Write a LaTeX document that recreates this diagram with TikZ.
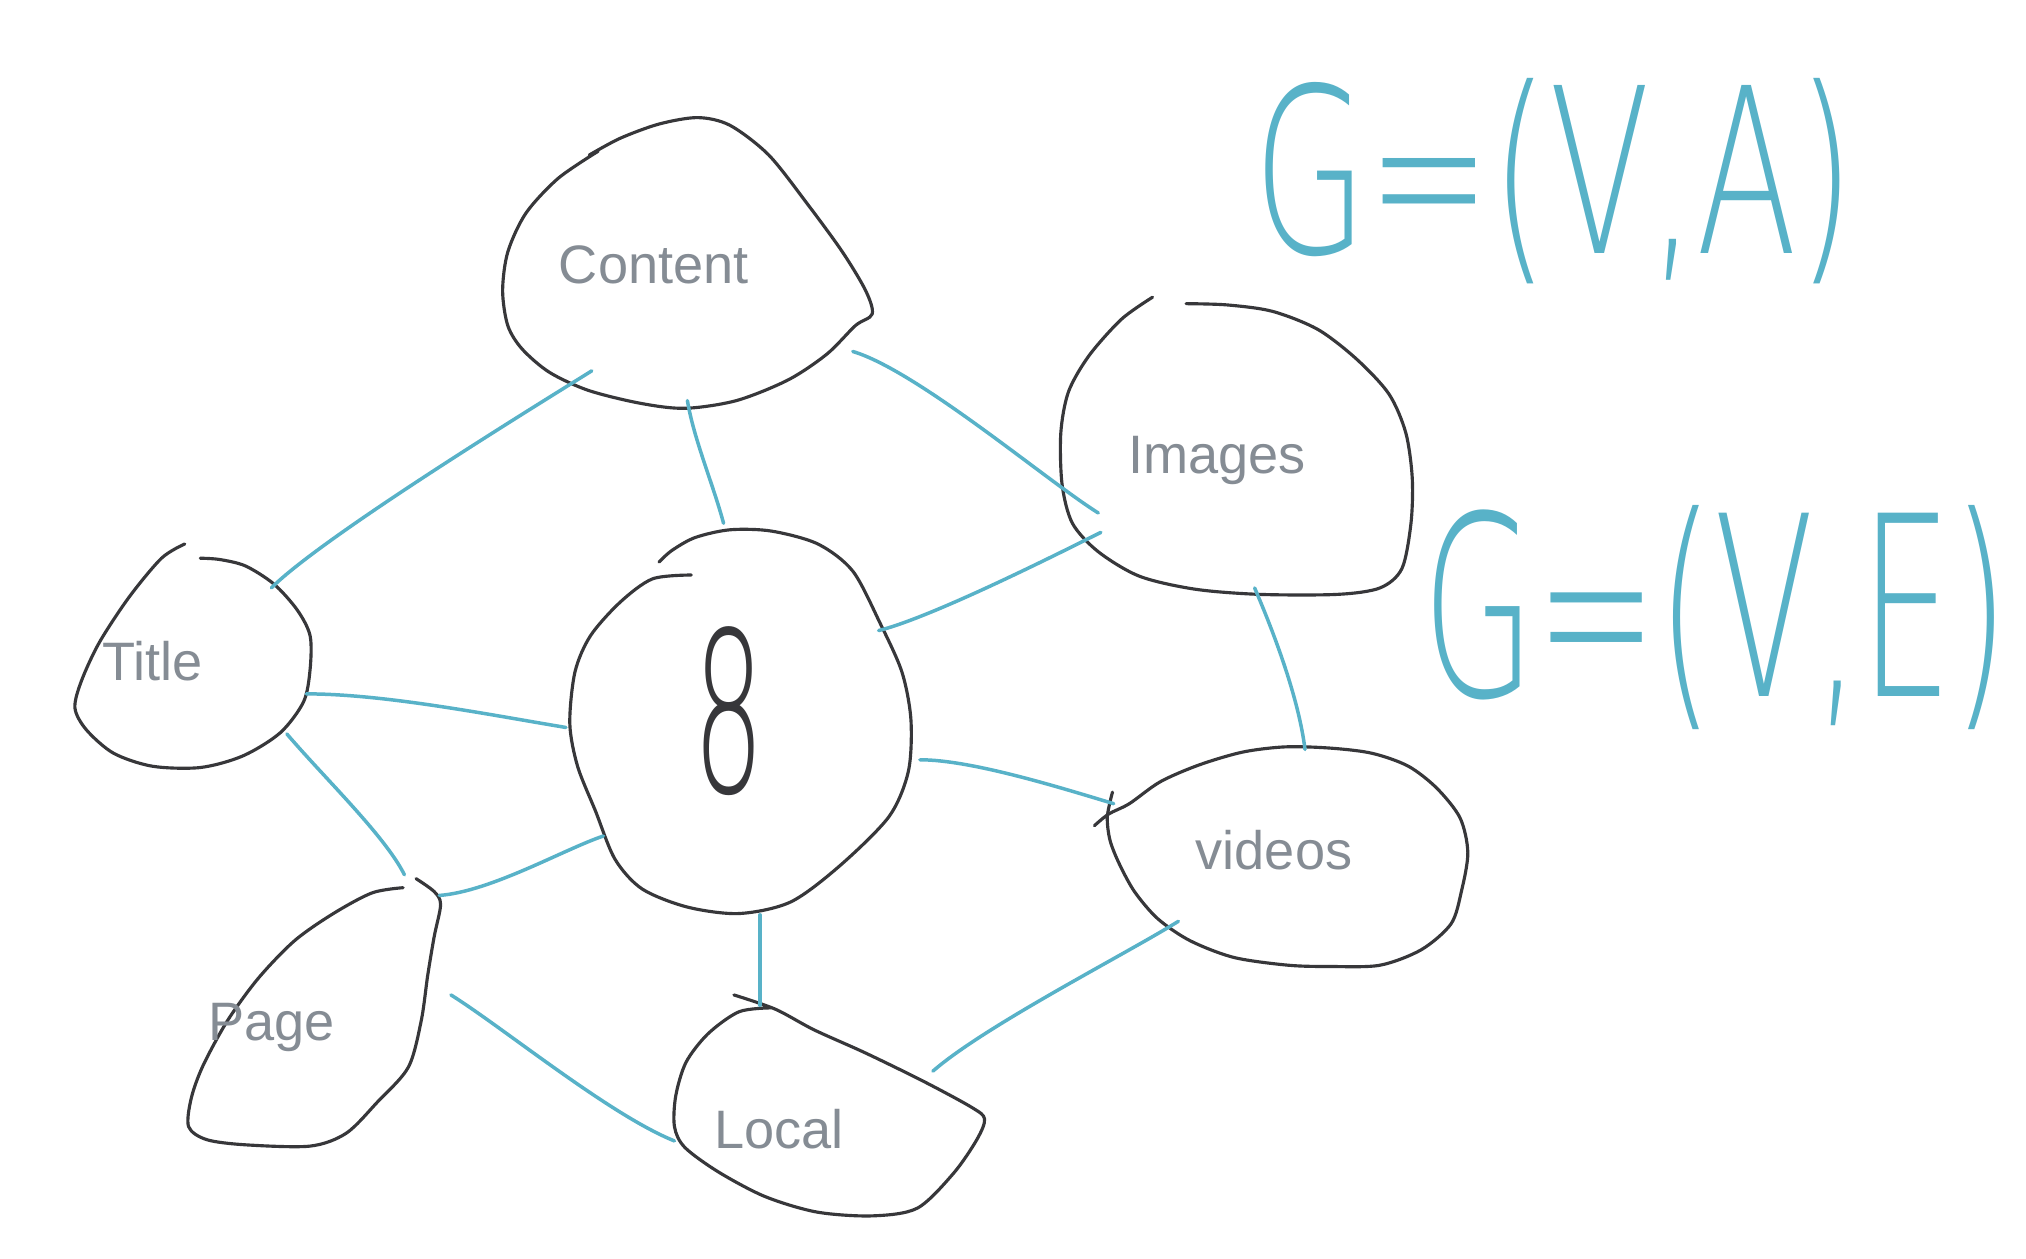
\documentclass[tikz,border=0pt]{standalone}
\usepackage{fontspec}
\usepackage{tikz}
\usetikzlibrary{calc}
\newfontfamily\etichettafont{Liberation Sans}
\newfontfamily\manofont{DejaVuSans-ExtraLight.ttf}
\definecolor{nero}{RGB}{55,55,58}
\definecolor{grigio}{RGB}{133,140,148}
\definecolor{azzurro}{RGB}{88,178,200}

\begin{document}
\begin{tikzpicture}[x=0.013cm, y=-0.013cm,
        blob/.style={draw=nero, line width=0.9pt, line cap=round, line join=round},
        arco/.style={draw=azzurro, line width=1pt, line cap=round},
        etichetta/.style={text=grigio, font=\etichettafont\fontsize{15.5}{18}\selectfont},
        mano/.style={text=azzurro, font=\manofont\fontsize{66}{70}\selectfont}]
        \fill[white] (0,0) rectangle (1568,974);
        \useasboundingbox (0,0) rectangle (1568,974);

        %disegno nodi
        \draw[blob] plot[smooth] coordinates {(463,117) (432,138) (407,165) (393,195) (389,225) (393,252) (404,270) (425,288) (455,302) (495,312) (530,316) (570,310) (610,294) (640,274) (662,252) (675,243) (670,225) (652,195) (625,158) (595,120) (565,97) (540,91) (510,96) (480,107) (456,120)};
        \draw[blob] plot[smooth] coordinates {(892,230) (868,247) (843,275) (827,303) (821,335) (822,375) (830,405) (850,427) (882,446) (925,456) (975,460) (1035,460) (1068,455) (1085,440) (1092,405) (1093,370) (1088,335) (1075,305) (1050,278) (1020,255) (985,241) (950,236) (918,235)};
        \draw[blob] plot[smooth] coordinates {(143,421) (125,432) (100,462) (77,497) (63,527) (58,548) (67,565) (88,583) (118,593) (155,594) (188,585) (217,567) (235,543) (240,518) (240,492) (230,472) (212,452) (190,438) (170,433) (155,432)};
        \draw[blob] plot[smooth] coordinates {(535,445) (505,448) (480,466) (457,492) (445,520) (441,560) (447,593) (461,628) (476,665) (497,688) (532,702) (572,707) (612,698) (650,670) (688,632) (703,597) (705,557) (698,520) (681,482) (660,442) (633,421) (597,411) (565,410) (538,416) (520,426) (510,435)};
        \draw[blob] plot[smooth] coordinates {(861,613) (857,632) (859,650) (866,668) (878,690) (896,711) (921,728) (955,741) (997,747) (1030,748) (1068,747) (1100,735) (1123,715) (1131,690) (1136,660) (1130,633) (1112,610) (1090,593) (1062,583) (1030,579) (995,578) (962,582) (928,592) (898,605) (874,622) (858,630) (847,639)};
        \draw[blob] plot[smooth] coordinates {(312,687) (288,691) (258,707) (228,728) (200,757) (176,790) (157,825) (148,850) (146,872) (160,882) (190,886) (240,887) (268,877) (292,853) (316,826) (326,790) (331,755) (336,725) (341,700) (336,690) (322,680)};
        \draw[blob] plot[smooth] coordinates {(597,780) (572,783) (548,800) (531,822) (523,848) (522,872) (530,888) (556,907) (592,926) (632,938) (675,941) (710,935) (738,908) (756,882) (762,866) (752,857) (715,837) (670,815) (630,797) (600,781) (568,770)};

        %etichette
        \node[etichetta] (content) at (506,205) {Content};
        \node[etichetta] (images) at (942,356) {Images};
        \node[etichetta] (title) at (118,512) {Title};
        \node[etichetta] (videos) at (986,658) {videos};
        \node[etichetta] (page) at (210,795) {Page};
        \node[etichetta] (local) at (603,874) {Local};
        \node[text=nero, font=\manofont\fontsize{64}{70}\selectfont, xscale=0.5] (otto) at (564,550) {8};

        %punti di attacco degli archi
        \coordinate (ti1) at (210,455);
        \coordinate (ti2) at (237,537);
        \coordinate (ti3) at (222,568);
        \coordinate (co1) at (458,287);
        \coordinate (co2) at (532,310);
        \coordinate (co3) at (660,272);
        \coordinate (im1) at (850,397);
        \coordinate (im2) at (852,412);
        \coordinate (im3) at (971,455);
        \coordinate (ce1) at (560,405);
        \coordinate (ce2) at (680,488);
        \coordinate (ce3) at (438,563);
        \coordinate (ce4) at (467,647);
        \coordinate (ce5) at (712,588);
        \coordinate (ce6) at (588,708);
        \coordinate (pa1) at (313,677);
        \coordinate (pa2) at (340,693);
        \coordinate (pa3) at (349,770);
        \coordinate (vi1) at (862,622);
        \coordinate (vi2) at (1010,580);
        \coordinate (vi3) at (912,713);
        \coordinate (lo1) at (588,778);
        \coordinate (lo2) at (522,883);
        \coordinate (lo3) at (722,829);

        %disegno archi
        \draw[arco] (ti1) .. controls +(40,-40) and +(-40,25) .. (co1);
        \draw[arco] (co2) .. controls +(5,30) and +(-8,-30) .. (ce1);
        \draw[arco] (co3) .. controls +(50,15) and +(-40,-25) .. (im1);
        \draw[arco] (im2) .. controls +(-40,20) and +(40,-10) .. (ce2);
        \draw[arco] (ti2) .. controls +(60,0) and +(-60,-10) .. (ce3);
        \draw[arco] (ti3) .. controls +(30,35) and +(-15,-30) .. (pa1);
        \draw[arco] (pa2) .. controls +(40,-3) and +(-30,10) .. (ce4);
        \draw[arco] (ce5) .. controls +(40,0) and +(-40,-12) .. (vi1);
        \draw[arco] (im3) .. controls +(15,35) and +(-5,-40) .. (vi2);
        \draw[arco] (ce6) -- (lo1);
        \draw[arco] (pa3) .. controls +(40,25) and +(-50,-20) .. (lo2);
        \draw[arco] (lo3) .. controls +(40,-35) and +(-40,25) .. (vi3);

        %formule scritte a mano
        \node[mano, xscale=0.64] (gva) at (1203,140) {G=(V,A)};
        \node[mano, xscale=0.58, font=\manofont\fontsize{72}{76}\selectfont] (gve) at (1328,478) {G=(V,E)};
\end{tikzpicture}
\end{document}
